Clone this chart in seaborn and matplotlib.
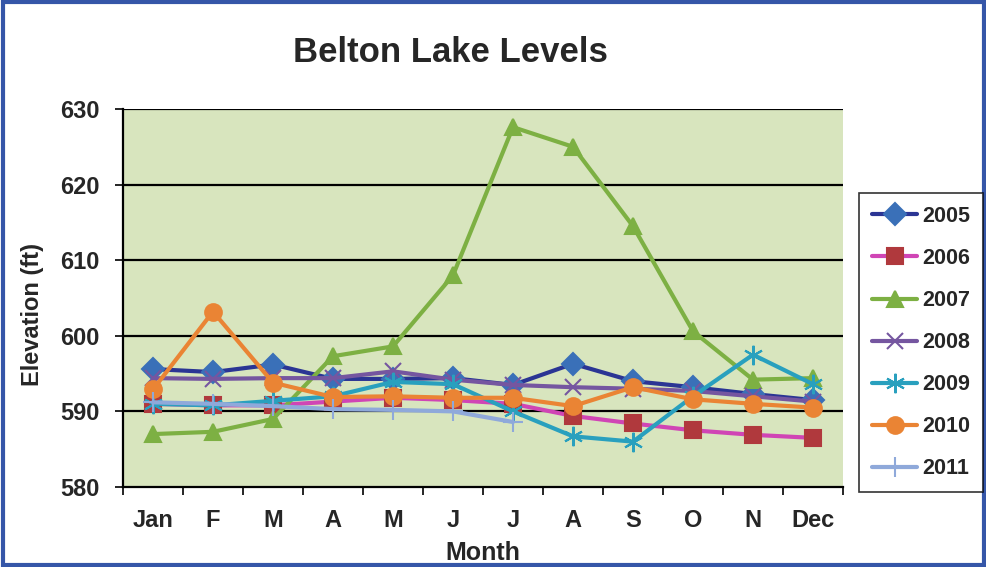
import numpy as np
import pandas as pd
import matplotlib
matplotlib.use("Agg")
import matplotlib.pyplot as plt
import matplotlib.patches as mpatches
import seaborn as sns

months = ["Jan", "F", "M", "A", "M", "J", "J", "A", "S", "O", "N", "Dec"]
years = ["2005", "2006", "2007", "2008", "2009", "2010", "2011"]
y2005 = [595.6, 595.2, 596.2, 594.3, 594.3, 594.4, 593.5, 596.3, 594.0, 593.2, 592.3, 591.5]
y2006 = [591.0, 590.8, 590.8, 591.3, 591.8, 591.5, 591.0, 589.4, 588.4, 587.5, 586.9, 586.5]
y2007 = [587.0, 587.3, 589.0, 597.3, 598.6, 608.0, 627.6, 625.0, 614.5, 600.6, 594.2, 594.4]
y2008 = [594.4, 594.3, 594.4, 594.4, 595.3, 594.2, 593.5, 593.2, 593.0, 592.7, 592.0, 591.3]
y2009 = [591.0, 590.8, 591.4, 592.0, 593.9, 593.6, 590.0, 586.7, 586.0, 592.0, 597.5, 593.6]
y2010 = [592.9, 603.2, 593.8, 591.9, 592.0, 591.8, 591.8, 590.7, 593.2, 591.6, 591.0, 590.5]
y2011 = [591.2, 591.0, 590.7, 590.3, 590.2, 590.0, 588.6]
series = [y2005, y2006, y2007, y2008, y2009, y2010, y2011]
yticks = [580, 590, 600, 610, 620, 630]

line_colors = ["#2B3594", "#D045B5", "#7DB043", "#7556A0", "#29A0BE", "#EA8434", "#8FA9DA"]
marker_face = ["#3A70B8", "#B0393D", "#7DB043", "#7556A0", "#29A0BE", "#EA8434", "#8FA9DA"]
markers = ["D", "s", "^", "x", (6, 2, 0), "o", "+"]
msizes = [11, 11, 12, 12, 14, 12, 14]

rows = []
for yr, vals in zip(years, series):
    for i, v in enumerate(vals):
        rows.append({"year": yr, "idx": i, "val": v})
df = pd.DataFrame(rows)

sns.set_theme(style="white")
plt.rcParams["font.family"] = ["Liberation Sans", "DejaVu Sans"]

fig = plt.figure(figsize=(9.87, 5.67), dpi=100)
ax = fig.add_axes([123/987, 1-487/567, (843-123)/987, (487-109)/567])
ax.set_facecolor("#D8E5BE")

handles = []
for k, yr in enumerate(years):
    sub = df[df["year"] == yr]
    sns.lineplot(data=sub, x="idx", y="val", ax=ax, color=line_colors[k],
                 marker=markers[k], markersize=msizes[k], linewidth=3,
                 markerfacecolor=marker_face[k], markeredgecolor=marker_face[k],
                 markeredgewidth=1.5, label=yr, legend=False)
    handles.append(ax.get_lines()[-1])

ax.set_xlim(-0.5, 11.5)
ax.set_ylim(580, 630)
ax.set_yticks(yticks)
ax.set_yticklabels([str(t) for t in yticks], fontsize=17, fontweight="bold")
ax.set_xticks(range(12))
ax.set_xticklabels(months, fontsize=17, fontweight="bold")
ax.set_xticks(np.arange(-0.5, 12.0, 1.0), minor=True)
for t in yticks[1:]:
    ax.axhline(t, color="black", lw=1.6, zorder=0.5)
for s in ["top", "right"]:
    ax.spines[s].set_visible(False)
for s in ["left", "bottom"]:
    ax.spines[s].set_color("black")
    ax.spines[s].set_linewidth(1.6)
ax.tick_params(axis="y", which="major", left=True, length=6, color="black", width=1.2, pad=11)
ax.tick_params(axis="x", which="major", bottom=False, length=0, pad=16)
ax.tick_params(axis="x", which="minor", bottom=True, length=6, color="black", width=1.2)
ax.set_xlabel("Month", fontsize=18, fontweight="bold")
ax.xaxis.set_label_coords(0.5, (487-541)/378)
ax.xaxis.label.set_va("top")
ax.set_ylabel("Elevation (ft)", fontsize=17, fontweight="bold")
ax.yaxis.set_label_coords((32-123)/720, (487-315)/378)
ax.yaxis.label.set_va("center")

fig.text(450/987, 1-53/567, "Belton Lake Levels", ha="center", va="center",
         fontsize=25, fontweight="bold")

leg = fig.legend(handles=handles, labels=years, loc="upper left",
                 bbox_to_anchor=(859/987, 1-193/567), frameon=True,
                 prop={"size": 15.5, "weight": "bold"}, labelspacing=0.98,
                 handlelength=2.1, handletextpad=0.25, borderpad=0.6,
                 borderaxespad=0, fancybox=False)
leg.get_frame().set_edgecolor("black")
leg.get_frame().set_linewidth(1.2)

fig.patches.append(mpatches.Rectangle((0.003, 0.004), 0.994, 0.993, transform=fig.transFigure,
                                      fill=False, edgecolor="#3556A8", linewidth=3))

fig.savefig("out.png", dpi=100, facecolor="white")
